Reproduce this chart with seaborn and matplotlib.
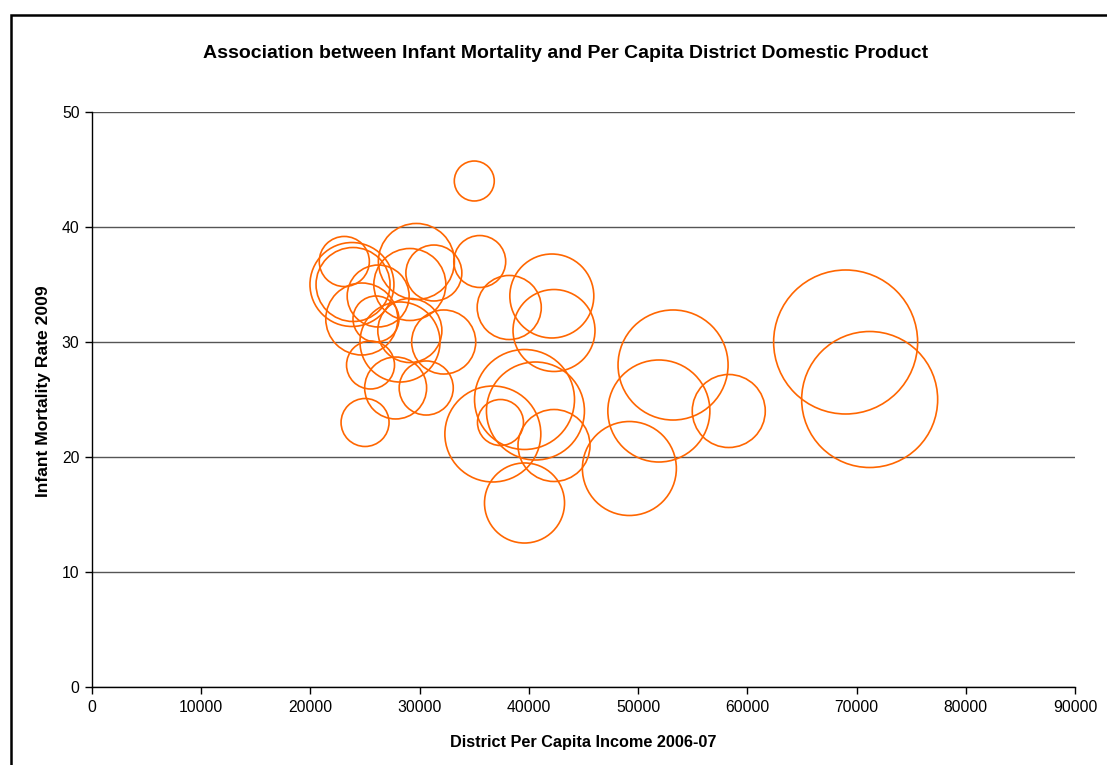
import matplotlib
matplotlib.use("Agg")
import matplotlib.pyplot as plt
from matplotlib.patches import Rectangle
import numpy as np
import pandas as pd
import seaborn as sns

# District per capita income 2006-07 (Rs)
income = [35000, 23100, 23800, 23900, 24700, 26200, 26000, 29100, 29700, 31300,
          35500, 28200, 29100, 32200, 25500, 27800, 30600, 25000, 38200, 42100,
          42300, 36700, 39600, 40600, 37400, 42300, 39600, 53200, 51900, 58300,
          49200, 69000, 71200]
# Infant mortality rate 2009 (per 1000 live births)
imr = [44, 37, 35, 35, 32, 34, 32, 35, 37, 36,
       37, 30, 31, 30, 28, 26, 26, 23, 33, 34,
       31, 22, 25, 24, 23, 21, 16, 28, 24, 24,
       19, 30, 25]
# Bubble weight (area scale)
weight = [7.7, 12.1, 34.0, 26.4, 25.0, 18.5, 10.2, 25.0, 27.9, 15.1,
          13.0, 30.9, 19.8, 19.8, 11.1, 18.5, 14.1, 11.1, 19.8, 34.0,
          32.4, 44.4, 48.2, 46.3, 10.2, 25.0, 30.9, 58.4, 50.2, 25.7,
          42.6, 100.0, 89.2]

x_ticks = list(range(0, 90001, 10000))
y_ticks = list(range(0, 51, 10))

df = pd.DataFrame({"income": income, "imr": imr, "weight": weight})

sns.set_style("white")
plt.rcParams["font.family"] = ["Liberation Sans", "DejaVu Sans"]
plt.rcParams["text.color"] = "black"
plt.rcParams["axes.labelcolor"] = "black"
plt.rcParams["xtick.color"] = "black"
plt.rcParams["ytick.color"] = "black"
plt.rcParams["xtick.bottom"] = True
plt.rcParams["ytick.left"] = True

W, H = 1107, 765
fig = plt.figure(figsize=(W / 100, H / 100), dpi=100)
fig.patch.set_facecolor("white")

ax_l, ax_r, ax_t, ax_b = 92, 1075, 112, 687
ax = fig.add_axes([ax_l / W, 1 - ax_b / H, (ax_r - ax_l) / W, (ax_b - ax_t) / H])

# largest bubble diameter ~144 px -> points
dmax_pt = 144 * 0.72
sns.scatterplot(data=df, x="income", y="imr", size="weight",
                sizes=(0, dmax_pt ** 2), size_norm=(0, 100),
                legend=False, ax=ax, facecolors="none",
                edgecolor="#FF6600", linewidth=1.2, zorder=3)
for coll in ax.collections:
    coll.set_facecolor("none")
    coll.set_edgecolor("#FF6600")
    coll.set_linewidth(1.2)

ax.set_xlim(0, 90000)
ax.set_ylim(0, 50)
ax.set_xticks(x_ticks)
ax.set_yticks(y_ticks)
ax.set_xticklabels([str(v) for v in x_ticks], fontsize=11.3, color="black")
ax.set_yticklabels([str(v) for v in y_ticks], fontsize=11.3, color="black")
ax.tick_params(axis="both", direction="out", length=5, width=1, color="black",
               pad=4, bottom=True, left=True)
ax.yaxis.grid(True, color="#555555", linewidth=1)
ax.set_axisbelow(True)

for side in ("top", "right"):
    ax.spines[side].set_visible(False)
for side in ("left", "bottom"):
    ax.spines[side].set_color("black")
    ax.spines[side].set_linewidth(1)
    ax.spines[side].set_zorder(4)

ax.set_xlabel("District Per Capita Income 2006-07", fontsize=11.7, fontweight="bold",
              color="black", labelpad=15)
ax.set_ylabel("Infant Mortality Rate 2009", fontsize=12.6, fontweight="bold",
              color="black")
ax.yaxis.set_label_coords(-0.0417, 0.515)

fig.text(566 / W, 1 - 54 / H,
         "Association between Infant Mortality and Per Capita District Domestic Product",
         ha="center", va="center", fontsize=14, fontweight="bold", color="black")

# outer chart border
fig.add_artist(Rectangle((11 / W, -0.05), 1.2, 1 - 15 / H + 0.05,
                         transform=fig.transFigure, fill=False,
                         edgecolor="black", linewidth=1.8))

fig.savefig("out.png", dpi=100, facecolor="white")
